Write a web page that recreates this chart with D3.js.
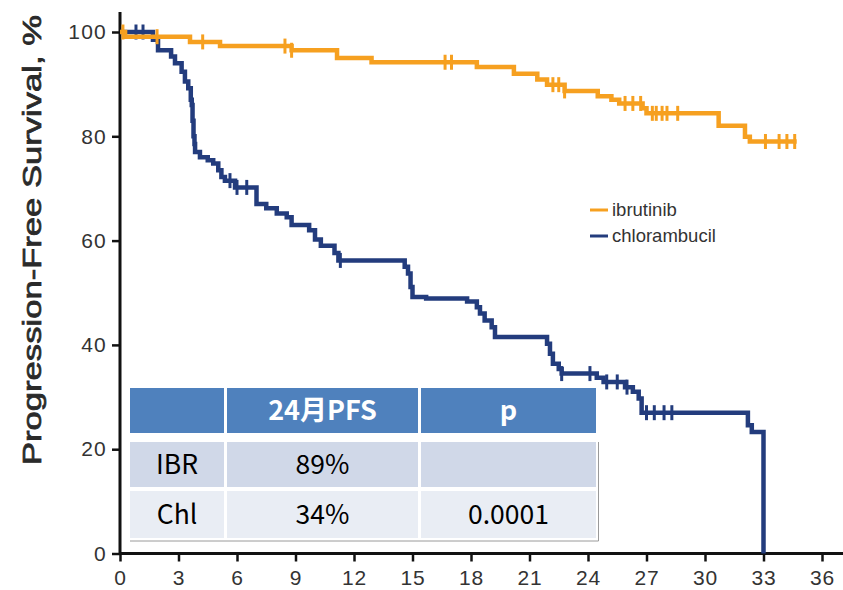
<!DOCTYPE html>
<html>
<head>
<meta charset="utf-8">
<script src="https://cdn.jsdelivr.net/npm/d3@7"></script>
<style>
  html, body { margin: 0; padding: 0; background: #fff; }
  svg { display: block; }
</style>
</head>
<body>
<svg id="chart" width="843" height="590"></svg>
<script>
// Kaplan–Meier progression-free survival, ibrutinib vs chlorambucil

// x ticks (months) and y ticks (%)
const monthTicks = [0, 3, 6, 9, 12, 15, 18, 21, 24, 27, 30, 33, 36];
const pctTicks = [0, 20, 40, 60, 80, 100];

// ibrutinib: step times (months) and survival (%) after each step
const ibrTimes = [0, 0.26, 3.59, 5.13, 8.8, 11.13, 12.9, 18.3, 20.2, 21.4, 21.9, 22.8, 24.5, 25.2, 25.6, 26.8, 27.0, 30.7, 32.05, 32.3];
const ibrSurv  = [100, 99.1, 98.1, 97.3, 96.5, 95.0, 94.2, 93.3, 92.0, 90.9, 89.9, 88.7, 87.7, 87.0, 86.3, 85.4, 84.4, 82.0, 79.9, 79.0];
const ibrEnd = 34.7;
const ibrCensored = [0.15, 1.9, 4.24, 8.46, 8.8, 16.67, 17.0, 22.2, 22.5, 22.8, 25.9, 26.3, 26.7, 27.3, 27.5, 27.8, 28.05, 28.6, 33.1, 33.8, 34.2, 34.6];

// chlorambucil: step times (months) and survival (%) after each step
const chlTimes = [0, 1.69, 1.95, 2.62, 2.82, 3.16, 3.33, 3.5, 3.63, 3.68, 3.72, 3.77, 3.82, 3.85, 4.1, 4.5, 4.78, 5.04, 5.2, 5.38, 5.9, 7.0, 7.5, 8.04, 8.55, 8.8, 9.7, 10.0, 10.3, 11.0, 11.2, 14.6, 14.77, 14.9, 15.0, 15.7, 17.8, 18.3, 18.46, 18.7, 19.06, 19.23, 21.9, 22.05, 22.2, 22.5, 22.65, 24.45, 24.8, 25.9, 26.3, 26.6, 26.75, 32.2, 32.4, 33.0];
const chlSurv  = [100, 98.5, 96.5, 95.3, 94.0, 92.4, 90.5, 89.2, 87.0, 86.0, 83.0, 80.0, 78.5, 77.0, 76.0, 75.4, 74.8, 73.5, 72.2, 71.5, 70.2, 67.0, 66.2, 65.2, 64.5, 63.0, 62.0, 60.2, 59.0, 57.6, 56.2, 55.0, 53.7, 51.1, 49.2, 48.9, 48.3, 47.2, 46.0, 44.7, 43.4, 41.5, 40.2, 38.3, 36.4, 35.4, 34.5, 33.7, 32.9, 31.9, 31.0, 29.7, 27.0, 24.6, 23.3, 0];
const chlEnd = 33.0;
const chlCensored = [0.82, 1.18, 5.64, 6.0, 6.5, 11.3, 22.65, 24.1, 24.96, 25.5, 26.0, 27.0, 27.4, 27.9, 28.3];

// legend
const seriesNames = ["ibrutinib", "chlorambucil"];
const seriesColors = ["#F6A020", "#233C7D"];

// summary table
const tableHeader = ["", "24月PFS", "p"];
const tableRows = [
  ["IBR", "89%", ""],
  ["Chl", "34%", "0.0001"]
];

const yTitle = "Progression-Free Survival, %";

const svg = d3.select("#chart");
const x = d3.scaleLinear().domain([0, 36]).range([120, 822]);
const y = d3.scaleLinear().domain([0, 100]).range([553.5, 32]);

const tickFont = "'Liberation Sans', Arial, sans-serif";

// y axis
const yAxis = svg.append("g")
  .attr("transform", `translate(${x(0)},0)`)
  .call(d3.axisLeft(y).tickValues(pctTicks).tickSize(8).tickPadding(5).tickSizeOuter(0));
yAxis.select(".domain").remove();
yAxis.selectAll(".tick line").attr("stroke", "#111").attr("stroke-width", 2.5);
yAxis.selectAll(".tick text")
  .attr("font-family", tickFont).attr("font-size", 21).attr("letter-spacing", 1.2).attr("fill", "#333");

// x axis
const xAxis = svg.append("g")
  .attr("transform", `translate(0,${y(0)})`)
  .call(d3.axisBottom(x).tickValues(monthTicks).tickSize(8).tickPadding(9).tickSizeOuter(0));
xAxis.select(".domain").remove();
xAxis.selectAll(".tick line").attr("stroke", "#111").attr("stroke-width", 2.5);
xAxis.selectAll(".tick text")
  .attr("font-family", tickFont).attr("font-size", 21).attr("letter-spacing", 0.8).attr("fill", "#333");

// axis spines
svg.append("line")
  .attr("x1", x(0)).attr("x2", x(0)).attr("y1", 12).attr("y2", y(0) + 1)
  .attr("stroke", "#111").attr("stroke-width", 3);
svg.append("line")
  .attr("x1", x(0) - 1).attr("x2", 843).attr("y1", y(0)).attr("y2", y(0))
  .attr("stroke", "#111").attr("stroke-width", 3);

// y axis title
svg.append("text")
  .attr("transform", `translate(41,240) rotate(-90)`)
  .attr("text-anchor", "middle")
  .attr("font-family", "'Liberation Sans', Arial, sans-serif")
  .attr("font-size", 25)
  .attr("fill", "#2a2a2a")
  .attr("stroke", "#2a2a2a")
  .attr("stroke-width", 0.7)
  .attr("textLength", 450)
  .attr("lengthAdjust", "spacingAndGlyphs")
  .text(yTitle);

// survival curves
const survAt = (times, surv, t) => {
  let s = surv[0];
  for (let i = 0; i < times.length; i++) if (times[i] <= t) s = surv[i];
  return s;
};

const line = d3.line().x(d => x(d[0])).y(d => y(d[1])).curve(d3.curveStepAfter);

const series = [
  { times: ibrTimes, surv: ibrSurv, end: ibrEnd, cens: ibrCensored, color: seriesColors[0] },
  { times: chlTimes, surv: chlSurv, end: chlEnd, cens: chlCensored, color: seriesColors[1] }
];

series.slice().reverse().forEach(s => {
  const pts = s.times.map((t, i) => [t, s.surv[i]]);
  if (s.end > s.times[s.times.length - 1]) pts.push([s.end, s.surv[s.surv.length - 1]]);
  svg.append("path")
    .datum(pts)
    .attr("d", line)
    .attr("fill", "none")
    .attr("stroke", s.color)
    .attr("stroke-width", 4.5);
  svg.append("g").selectAll("line")
    .data(s.cens)
    .join("line")
    .attr("x1", d => x(d)).attr("x2", d => x(d))
    .attr("y1", d => y(survAt(s.times, s.surv, d)) - 7.5)
    .attr("y2", d => y(survAt(s.times, s.surv, d)) + 7.5)
    .attr("stroke", s.color)
    .attr("stroke-width", 3);
});

// legend
const legend = svg.append("g").attr("transform", "translate(590,210)");
seriesNames.forEach((name, i) => {
  const g = legend.append("g").attr("transform", `translate(0,${i * 26})`);
  g.append("line").attr("x1", 0).attr("x2", 18).attr("y1", 0).attr("y2", 0)
    .attr("stroke", seriesColors[i]).attr("stroke-width", 3);
  g.append("text").attr("x", 22).attr("y", 0).attr("dy", "0.35em")
    .attr("font-family", tickFont).attr("font-size", 18.5).attr("fill", "#333")
    .text(name);
});

// summary table
const colEdges = [[130, 224], [227, 418], [421, 596]];
const rowEdges = [[388, 433], [442, 487], [491, 538]];
const rowFills = ["#4F81BD", "#D0D8E8", "#E9EDF4"];
const tbl = svg.append("g");
tbl.append("rect").attr("x", 128).attr("y", 386).attr("width", 470).attr("height", 154).attr("fill", "#fff");
tbl.append("line").attr("x1", 130).attr("x2", 598.5).attr("y1", 541).attr("y2", 541)
  .attr("stroke", "#9a9a9a").attr("stroke-width", 1);
tbl.append("line").attr("x1", 598.5).attr("x2", 598.5).attr("y1", 442).attr("y2", 541)
  .attr("stroke", "#9a9a9a").attr("stroke-width", 1);

const allRows = [tableHeader, ...tableRows];
allRows.forEach((row, r) => {
  row.forEach((cell, c) => {
    const [x0, x1] = colEdges[c];
    const [y0, y1] = rowEdges[r];
    tbl.append("rect").attr("x", x0).attr("y", y0).attr("width", x1 - x0).attr("height", y1 - y0)
      .attr("fill", rowFills[r]);
    if (cell) {
      tbl.append("text")
        .attr("x", (x0 + x1) / 2).attr("y", (y0 + y1) / 2).attr("dy", "0.36em")
        .attr("text-anchor", "middle")
        .attr("font-family", "'Noto Sans CJK SC', 'Noto Sans', sans-serif")
        .attr("font-size", r === 0 ? 27 : 26.5)
        .attr("font-weight", r === 0 ? 700 : 400)
        .attr("fill", r === 0 ? "#fff" : "#000")
        .text(cell);
    }
  });
});
</script>
</body>
</html>
